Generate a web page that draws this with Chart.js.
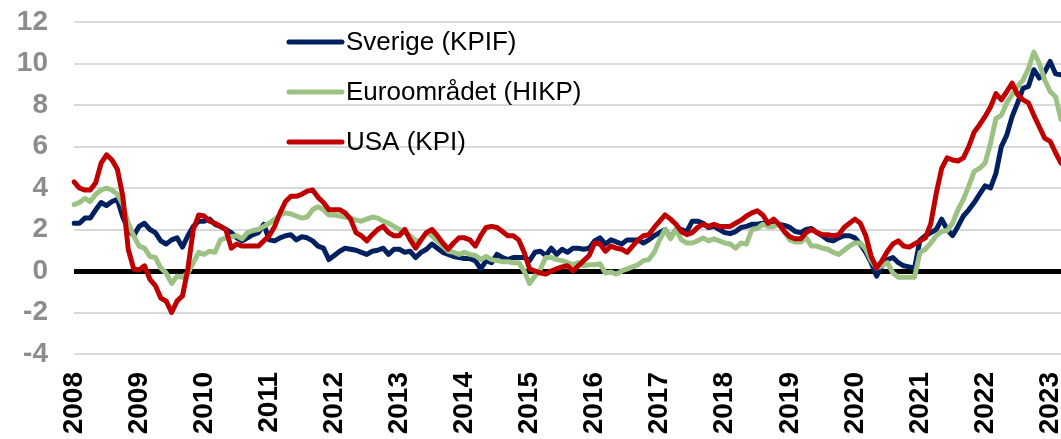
<!DOCTYPE html>
<html>
<head>
<meta charset="utf-8">
<script src="https://cdn.jsdelivr.net/npm/chart.js@4/dist/chart.umd.min.js"></script>
<style>
  html, body { margin: 0; padding: 0; background: #fff; overflow: hidden; }
  #wrap { width: 1061px; height: 439px; }
</style>
</head>
<body>
<div id="wrap"><canvas id="inflationChart" width="1061" height="439"></canvas></div>
<script>
// years shown on the axis, monthly data from Jan 2008
const years = [2008, 2009, 2010, 2011, 2012, 2013, 2014, 2015, 2016, 2017, 2018, 2019, 2020, 2021, 2022, 2023];

const sverige = [
    2.3, 2.3, 2.55, 2.55, 2.95, 3.3, 3.15, 3.35, 3.45, 2.6, 2.0, 1.7,
    2.15, 2.3, 2.0, 1.85, 1.45, 1.3, 1.5, 1.6, 1.15, 1.7, 2.15, 2.4,
    2.4, 2.5, 2.25, 2.15, 2.0, 1.85, 1.6, 1.45, 1.6, 1.75, 1.85, 2.25,
    1.5, 1.45, 1.6, 1.7, 1.75, 1.5, 1.65, 1.6, 1.45, 1.2, 1.1, 0.55,
    0.75, 0.95, 1.1, 1.05, 1.0, 0.9, 0.8, 0.95, 1.0, 1.1, 0.8, 1.05,
    1.05, 0.9, 0.95, 0.65, 0.9, 1.05, 1.3, 1.1, 0.9, 0.8, 0.7, 0.65,
    0.6, 0.6, 0.5, 0.1, 0.5, 0.4, 0.8, 0.65, 0.55, 0.65, 0.65, 0.65,
    0.5, 0.9, 0.95, 0.75, 1.1, 0.8, 1.05, 0.9, 1.1, 1.1, 1.05, 1.1,
    1.45, 1.6, 1.3, 1.5, 1.4, 1.3, 1.5, 1.5, 1.5, 1.35, 1.5, 1.7,
    1.85, 2.0, 1.6, 2.0, 2.0, 1.9, 2.4, 2.4, 2.3, 2.1, 2.15, 2.0,
    1.85, 1.8, 1.9, 2.1, 2.15, 2.25, 2.25, 2.3, 2.25, 2.3, 2.25, 2.2,
    2.1, 1.9, 1.85, 2.0, 2.05, 1.85, 1.7, 1.5, 1.45, 1.6, 1.7, 1.7,
    1.6, 1.3, 0.9, 0.4, -0.25, 0.25, 0.55, 0.65, 0.4, 0.25, 0.2, 0.15,
    1.5, 1.7, 1.85, 2.0, 2.5, 2.0, 1.7, 2.15, 2.65, 2.95, 3.3, 3.7,
    4.1, 4.0, 4.7, 6.0, 6.55, 7.45, 8.1, 8.8, 8.9, 9.7, 9.3, 9.6,
    10.1, 9.5, 9.45
];

const euroomradet = [
    3.2, 3.3, 3.5, 3.35, 3.7, 3.9, 4.0, 3.9, 3.7, 3.2, 2.3, 1.7,
    1.2, 1.1, 0.7, 0.65, 0.15, -0.1, -0.6, -0.25, -0.3, -0.1, 0.4, 0.9,
    0.8, 0.95, 0.9, 1.5, 1.6, 1.65, 1.7, 1.55, 1.85, 1.95, 2.0, 2.15,
    2.3, 2.5, 2.7, 2.8, 2.75, 2.65, 2.55, 2.6, 2.95, 3.1, 2.95, 2.7,
    2.7, 2.65, 2.6, 2.55, 2.45, 2.4, 2.5, 2.6, 2.55, 2.4, 2.3, 2.15,
    2.0, 1.85, 1.7, 1.45, 1.5, 1.85, 1.7, 1.45, 1.2, 0.95, 0.9, 0.8,
    0.9, 0.8, 0.75, 0.55, 0.7, 0.55, 0.5, 0.45, 0.45, 0.4, 0.4, 0.0,
    -0.6, -0.25, 0.1, 0.65, 0.65, 0.55, 0.5, 0.4, 0.3, 0.4, 0.25, 0.3,
    0.3, 0.35, -0.1, -0.05, -0.15, 0.0, 0.1, 0.2, 0.3, 0.5, 0.55, 0.9,
    1.5, 2.0, 1.55, 2.0, 1.5, 1.35, 1.35, 1.45, 1.6, 1.45, 1.55, 1.45,
    1.35, 1.3, 1.1, 1.35, 1.3, 2.0, 2.05, 2.25, 2.15, 2.15, 2.25, 1.9,
    1.5, 1.4, 1.4, 1.6, 1.2, 1.2, 1.1, 1.05, 0.9, 0.8, 1.0, 1.2,
    1.35, 1.35, 1.05, 0.5, 0.15, 0.25, 0.4, -0.1, -0.3, -0.3, -0.3, -0.3,
    0.9, 1.05, 1.35, 1.7, 1.9, 1.95, 2.3, 2.95, 3.45, 4.1, 4.8, 4.95,
    5.2, 6.15, 7.35, 7.5, 8.1, 8.5, 8.9, 9.2, 9.75, 10.55, 10.0, 9.2,
    8.65, 8.4, 7.3
];

const usa = [
    4.3, 4.0, 3.9, 3.9, 4.25, 5.2, 5.6, 5.35, 4.9, 3.6, 1.05, 0.1,
    0.05, 0.25, -0.4, -0.7, -1.3, -1.45, -2.0, -1.45, -1.2, 0.1, 2.0, 2.7,
    2.65, 2.4, 2.3, 2.15, 2.0, 1.1, 1.3, 1.2, 1.2, 1.2, 1.2, 1.45,
    1.7, 2.15, 2.8, 3.35, 3.6, 3.6, 3.7, 3.85, 3.9, 3.55, 3.3, 2.95,
    2.95, 2.95, 2.8, 2.5, 1.85, 1.7, 1.45, 1.75, 2.0, 2.15, 1.85, 1.7,
    1.7, 2.0, 1.5, 1.1, 1.5, 1.85, 2.0, 1.7, 1.35, 1.05, 1.35, 1.6,
    1.6, 1.5, 1.2, 1.7, 2.1, 2.15, 2.1, 1.9, 1.7, 1.7, 1.5, 0.9,
    0.1, 0.0, -0.1, -0.15, 0.0, 0.1, 0.2, 0.25, 0.0, 0.25, 0.5, 0.75,
    1.35, 1.3, 0.95, 1.2, 1.1, 1.05, 0.9, 1.2, 1.5, 1.7, 1.75, 2.1,
    2.4, 2.7, 2.5, 2.25, 1.9, 1.75, 1.85, 2.1, 2.25, 2.15, 2.25, 2.15,
    2.15, 2.15, 2.3, 2.45, 2.65, 2.8, 2.9, 2.7, 2.3, 2.5, 2.25, 1.9,
    1.65, 1.55, 1.55, 1.85, 2.0, 1.85, 1.75, 1.75, 1.7, 1.75, 2.1, 2.3,
    2.5, 2.3, 1.7, 0.7, 0.15, 0.5, 0.95, 1.3, 1.45, 1.2, 1.15, 1.3,
    1.45, 1.6, 2.3, 3.75, 4.95, 5.45, 5.35, 5.3, 5.45, 6.0, 6.7, 7.05,
    7.45, 7.9, 8.55, 8.25, 8.65, 9.05, 8.5, 8.25, 8.1, 7.5, 6.95, 6.4,
    6.25, 5.7, 5.2
];

const months = [];
years.forEach(y => {
    for (let m = 1; m <= 12; m++) months.push(y + '-' + String(m).padStart(2, '0'));
});
const labels = months.slice(0, sverige.length);

const FONT = "'Liberation Sans', Arial, sans-serif";

// legend drawn inside the plot, like the original
const insideLegend = {
    id: 'insideLegend',
    afterDraw(chart) {
        const ctx = chart.ctx;
        ctx.save();
        ctx.font = '26px ' + FONT;
        ctx.textBaseline = 'middle';
        ctx.textAlign = 'left';
        chart.data.datasets.forEach((ds, i) => {
            const y = 42 + i * 50;
            ctx.strokeStyle = ds.borderColor;
            ctx.lineWidth = 5;
            ctx.lineCap = 'round';
            ctx.beginPath();
            ctx.moveTo(289, y);
            ctx.lineTo(342, y);
            ctx.stroke();
            ctx.fillStyle = '#000';
            ctx.fillText(ds.label, 346, y + 1);
        });
        ctx.restore();
    }
};

const ctxElem = document.getElementById('inflationChart').getContext('2d');

const chart = new Chart(ctxElem, {
    type: 'line',
    data: {
        labels: labels,
        datasets: [{
            label: 'Sverige (KPIF)',
            data: sverige,
            borderColor: '#002060',
            order: 3,
        }, {
            label: 'Euroområdet (HIKP)',
            data: euroomradet,
            borderColor: '#9CC283',
            order: 2,
        }, {
            label: 'USA (KPI)',
            data: usa,
            borderColor: '#C00000',
            order: 1,
        }]
    },
    options: {
        responsive: false,
        animation: false,
        layout: { padding: { top: 22, right: 0, left: 0, bottom: 0 } },
        elements: {
            point: { radius: 0, hoverRadius: 0 },
            line: { borderWidth: 5, tension: 0, borderJoinStyle: 'round', borderCapStyle: 'round', fill: false }
        },
        scales: {
            x: {
                offset: false,
                grid: { display: false, drawTicks: false },
                border: { display: false },
                ticks: {
                    autoSkip: false,
                    minRotation: 90,
                    maxRotation: 90,
                    padding: 18,
                    color: '#000',
                    font: { family: FONT, size: 28, weight: 'bold' },
                    callback: function (value) {
                        const lab = this.getLabelForValue(value);
                        return lab.endsWith('-01') ? lab.slice(0, 4) : '';
                    }
                },
                afterFit: (scale) => {
                    scale.height = 85;
                    scale.paddingLeft = 0;
                    scale.paddingRight = 0;
                }
            },
            y: {
                min: -4,
                max: 12,
                grid: {
                    drawTicks: false,
                    color: (c) => c.tick.value === 0 ? '#000' : '#d9d9d9',
                    lineWidth: (c) => c.tick.value === 0 ? 5 : 2
                },
                border: { display: false },
                ticks: {
                    stepSize: 2,
                    padding: 26,
                    color: '#8c8c8c',
                    font: { family: FONT, size: 28, weight: 'bold' }
                },
                afterFit: (scale) => {
                    scale.width = 74;
                    scale.paddingTop = 0;
                    scale.paddingBottom = 0;
                }
            }
        },
        plugins: {
            legend: { display: false },
            tooltip: { enabled: false }
        }
    },
    plugins: [insideLegend]
});
</script>
</body>
</html>
